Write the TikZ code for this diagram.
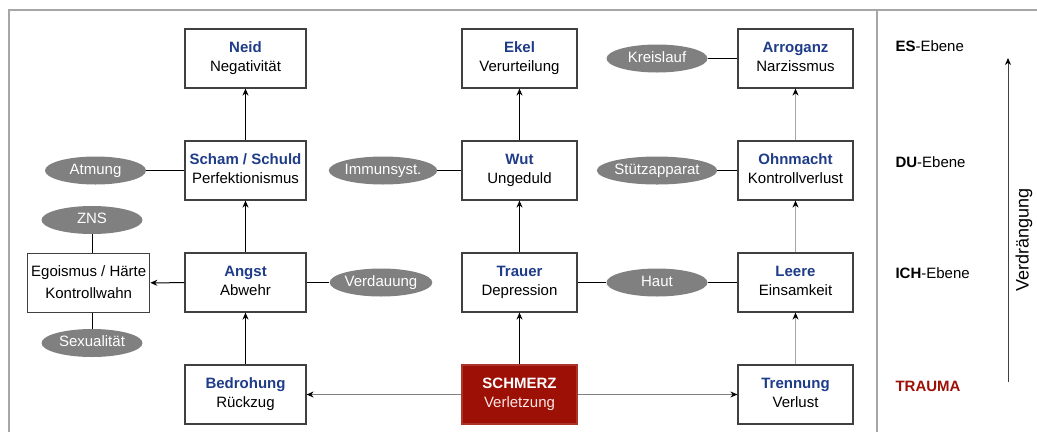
\documentclass[tikz,border=0pt]{standalone}
\usepackage{fontspec}
\setmainfont{Liberation Sans}
\usepackage{xcolor}
\usetikzlibrary{shapes.geometric, arrows.meta}
\definecolor{titelblau}{HTML}{1F3C88}
\definecolor{traumarot}{HTML}{9C1006}
\definecolor{rahmengrau}{HTML}{A6A6A6}
\definecolor{organgrau}{HTML}{808080}
\definecolor{kastenrand}{HTML}{404040}

\tikzset{
  gefuehl/.style={draw=kastenrand, line width=1.2pt, fill=white, align=center,
                  minimum width=118pt, minimum height=59pt, inner sep=0pt},
  organ/.style={ellipse, fill=organgrau, text=white, inner sep=0pt,
                text height=11pt, text depth=3.5pt,
                minimum width=101pt, minimum height=28pt},
  ebene/.style={anchor=west},
  hoch/.style={line width=1pt, -{Stealth[length=7pt, width=6pt]}},
  hochgrau/.style={draw=rahmengrau, line width=0.8pt, -{Stealth[black, length=7pt, width=6pt]}},
  quer/.style={draw=organgrau, line width=1.4pt, -{Stealth[black, length=7pt, width=6pt]}},
  bindung/.style={line width=1pt}
}

\newcommand{\gtitel}[2]{\textbf{\color{titelblau}#1}\strut\\#2\strut}

\begin{document}
\begin{tikzpicture}[x=1pt, y=-1pt,
                    every node/.style={font=\fontsize{15}{19}\selectfont}]

  \useasboundingbox (0,0) rectangle (1037,432);

  %% Rahmen und Trennlinie
  \draw[rahmengrau, line width=2pt] (9,432) -- (9,10) -- (1037,10);
  \draw[rahmengrau, line width=2pt] (877,10) -- (877,432);

  %% linke Spalte
  \node[gefuehl, minimum width=121pt] (neid)      at (245.5,58.5)  {\gtitel{Neid}{Negativität}};
  \node[gefuehl, minimum width=121pt] (scham)     at (245.5,170.5) {\gtitel{Scham / Schuld}{Perfektionismus}};
  \node[gefuehl, minimum width=121pt] (angst)     at (245.5,282.5) {\gtitel{Angst}{Abwehr}};
  \node[gefuehl, minimum width=121pt] (bedrohung) at (245.5,394.5) {\gtitel{Bedrohung}{Rückzug}};
  \node[gefuehl, minimum width=122pt, font=\fontsize{15}{22}\selectfont]
       (egoismus) at (88.7,283) {Egoismus / Härte\strut\\Kontrollwahn\strut};

  %% mittlere Spalte
  \node[gefuehl, minimum width=115pt] (ekel)   at (519.5,58.5)  {\gtitel{Ekel}{Verurteilung}};
  \node[gefuehl, minimum width=115pt] (wut)    at (519.5,170.5) {\gtitel{Wut}{Ungeduld}};
  \node[gefuehl, minimum width=115pt] (trauer) at (519.5,282.5) {\gtitel{Trauer}{Depression}};
  \node[gefuehl, minimum width=115pt, fill=traumarot, draw=traumarot!85!white, text=white]
       (schmerz) at (519.5,394.5) {\textbf{SCHMERZ}\strut\\\color{white!90!red}Verletzung\strut};

  %% rechte Spalte
  \node[gefuehl, minimum width=115pt] (arroganz) at (795.5,58.5)  {\gtitel{Arroganz}{Narzissmus}};
  \node[gefuehl, minimum width=115pt] (ohnmacht) at (795.5,170.5) {\gtitel{Ohnmacht}{Kontrollverlust}};
  \node[gefuehl, minimum width=115pt] (leere)    at (795.5,282.5) {\gtitel{Leere}{Einsamkeit}};
  \node[gefuehl, minimum width=115pt] (trennung) at (795.5,394.5) {\gtitel{Trennung}{Verlust}};

  %% Organe
  \node[organ] (atmung)      at (95.5,170.5) {Atmung};
  \node[organ] (zns)         at (92,220)     {ZNS};
  \node[organ] (sexualitaet) at (92,343)     {Sexualität};
  \node[organ] (immun)       at (383,170.5)  {Immunsyst.};
  \node[organ] (verdauung)   at (381,282.5)  {Verdauung};
  \node[organ] (kreislauf)   at (657,58.5)   {Kreislauf};
  \node[organ] (stuetz)      at (657,170.5)  {Stützapparat};
  \node[organ] (haut)        at (657,282.5)  {Haut};

  %% Verbindungen zu den Organen
  \draw[bindung] (atmung) -- (scham);
  \draw[bindung] (zns.south) -- (zns.south |- egoismus.north);
  \draw[bindung] (sexualitaet.north |- egoismus.south) -- (sexualitaet.north);
  \draw[bindung] (angst) -- (verdauung);
  \draw[bindung] (immun) -- (wut);
  \draw[bindung] (trauer) -- (haut);
  \draw[bindung] (haut) -- (leere);
  \draw[bindung] (kreislauf) -- (arroganz);
  \draw[bindung] (stuetz) -- (ohnmacht);

  %% Pfeile nach oben
  \draw[hoch] (bedrohung) -- (angst);
  \draw[hoch] (angst) -- (scham);
  \draw[hoch] (scham) -- (neid);
  \draw[hoch] (angst) -- (egoismus);
  \draw[hoch] (schmerz) -- (trauer);
  \draw[hoch] (trauer) -- (wut);
  \draw[hoch] (wut) -- (ekel);
  \draw[hochgrau] (trennung) -- (leere);
  \draw[hochgrau] (leere) -- (ohnmacht);
  \draw[hochgrau] (ohnmacht) -- (arroganz);

  %% vom Schmerz nach links und rechts
  \draw[quer] (schmerz) -- (bedrohung);
  \draw[quer] (schmerz) -- (trennung);

  %% Ebenen
  \node[ebene] (es)     at (892,46.5) {\textbf{ES}-Ebene};
  \node[ebene] (du)     at (892,162)  {\textbf{DU}-Ebene};
  \node[ebene] (ich)    at (892,273)  {\textbf{ICH}-Ebene};
  \node[ebene, text=traumarot] (trauma) at (892,386) {\textbf{TRAUMA}};

  %% Verdrängung
  \coordinate (vunten) at (1008,382);
  \coordinate (voben)  at (1008,58);
  \draw[draw=kastenrand, line width=0.8pt, -{Stealth[black, length=7pt, width=6pt]}] (vunten) -- (voben);
  \node[rotate=90, font=\fontsize{18}{22}\selectfont] (verdraengung) at (1024,240) {Verdrängung};

\end{tikzpicture}
\end{document}
